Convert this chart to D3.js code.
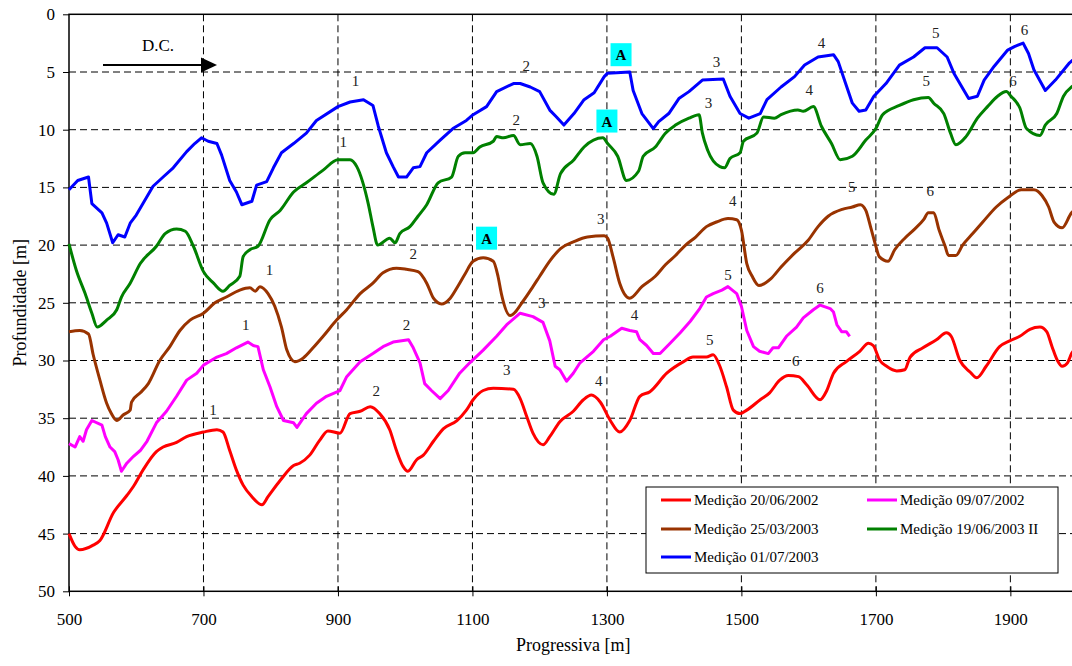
<!DOCTYPE html>
<html>
<head>
<meta charset="utf-8">
<script src="https://cdn.jsdelivr.net/npm/d3@7"></script>
<style>
  body { margin: 0; background: #fff; }
  svg { display: block; }
  svg text { font-family: "Liberation Serif", "Times New Roman", serif; }
</style>
</head>
<body>
<div class="container"></div>
<script>
// measurements: [progressiva (m), profundidade (m)]
var med20062002 = [[500,45.0],[509,46.1],[516,46.4],[536,46.0],[546,45.6],[566,43.2],[586,41.7],[596,40.9],[610,39.5],[630,37.9],[640,37.5],[660,37.1],[675,36.6],[700,36.2],[720,36.0],[729,36.2],[739,37.8],[749,39.5],[759,40.8],[772,41.8],[787,42.5],[796,41.8],[814,40.4],[834,39.1],[843,38.9],[858,38.2],[873,36.9],[885,36.1],[903,36.3],[918,34.6],[933,34.4],[948,34.0],[962,34.6],[977,36.0],[987,37.8],[997,39.2],[1004,39.6],[1017,38.6],[1027,38.2],[1042,37.0],[1057,35.9],[1077,35.2],[1091,34.3],[1101,33.4],[1116,32.6],[1131,32.4],[1161,32.5],[1171,33.3],[1181,34.9],[1190,36.3],[1205,37.3],[1215,36.6],[1230,35.3],[1250,34.4],[1265,33.4],[1277,33.0],[1290,33.6],[1305,35.2],[1319,36.2],[1334,35.2],[1349,33.1],[1364,32.7],[1389,31.1],[1414,30.1],[1428,29.7],[1448,29.7],[1458,29.5],[1468,30.5],[1478,32.3],[1488,34.3],[1498,34.6],[1508,34.3],[1528,33.4],[1542,32.8],[1557,31.7],[1570,31.3],[1585,31.4],[1597,32.1],[1617,33.4],[1627,32.6],[1637,31.1],[1656,30.1],[1676,29.2],[1689,28.5],[1696,28.7],[1706,30.0],[1716,30.5],[1731,30.9],[1743,30.8],[1751,29.7],[1770,28.9],[1790,28.2],[1805,27.6],[1812,27.9],[1825,30.0],[1840,31.0],[1850,31.5],[1864,30.5],[1884,28.8],[1899,28.3],[1914,27.9],[1929,27.3],[1944,27.1],[1954,27.5],[1962,28.8],[1970,30.0],[1977,30.5],[1985,30.2],[1991,29.4],[2000,28.8]];

var med09072002 = [[500,37.2],[509,37.5],[516,36.6],[521,37.0],[526,36.0],[534,35.2],[549,35.6],[554,36.6],[561,37.5],[568,37.9],[573,38.6],[578,39.6],[586,38.9],[596,38.3],[606,37.8],[616,37.0],[630,35.4],[645,34.4],[660,33.1],[675,31.7],[690,31.1],[700,30.4],[720,29.7],[734,29.4],[749,28.9],[766,28.4],[774,28.7],[781,28.8],[789,30.8],[799,32.3],[809,34.0],[819,35.2],[834,35.4],[839,35.8],[853,34.6],[868,33.7],[883,33.1],[903,32.6],[913,31.4],[933,30.1],[952,29.4],[967,28.8],[982,28.4],[1005,28.2],[1012,28.9],[1022,30.2],[1029,32.0],[1039,32.6],[1052,33.3],[1064,32.6],[1081,31.1],[1096,30.2],[1116,29.1],[1136,27.9],[1151,26.9],[1171,25.9],[1190,26.2],[1205,26.7],[1215,28.3],[1223,30.5],[1230,30.8],[1240,31.8],[1250,31.1],[1260,30.2],[1280,29.2],[1295,28.2],[1305,27.9],[1322,27.2],[1334,27.4],[1344,27.5],[1349,28.2],[1359,28.7],[1369,29.4],[1379,29.4],[1394,28.5],[1409,27.6],[1424,26.6],[1438,25.5],[1448,24.5],[1458,24.2],[1471,23.9],[1480,23.6],[1493,24.2],[1500,25.3],[1508,27.4],[1518,28.8],[1527,29.2],[1540,29.4],[1547,28.9],[1555,28.9],[1567,27.9],[1582,27.1],[1592,26.3],[1607,25.6],[1617,25.2],[1632,25.5],[1637,25.8],[1642,26.9],[1649,27.5],[1656,27.5],[1661,27.9]];

var med25032003 = [[500,27.5],[516,27.4],[529,27.7],[536,29.5],[546,31.7],[556,33.7],[563,34.6],[571,35.2],[581,34.7],[591,34.3],[593,33.6],[606,32.8],[618,32.0],[635,30.0],[650,28.8],[665,27.4],[680,26.5],[700,25.9],[717,25.0],[734,24.5],[754,23.9],[769,23.7],[777,24.0],[784,23.6],[796,24.2],[806,25.3],[816,27.1],[824,29.1],[836,30.1],[848,29.8],[863,28.9],[878,27.9],[898,26.5],[913,25.6],[933,24.2],[952,23.3],[967,22.4],[987,22.0],[1002,22.1],[1019,22.3],[1032,23.3],[1042,24.6],[1054,25.1],[1067,24.6],[1079,23.5],[1089,22.5],[1101,21.4],[1116,21.1],[1131,21.4],[1138,22.7],[1143,24.2],[1156,26.1],[1176,24.8],[1190,23.6],[1200,22.7],[1216,21.3],[1231,20.3],[1251,19.7],[1271,19.3],[1296,19.2],[1301,19.4],[1309,21.0],[1319,23.3],[1334,24.6],[1352,23.6],[1372,22.7],[1387,21.7],[1402,20.9],[1417,20.0],[1432,19.3],[1448,18.4],[1463,18.0],[1480,17.7],[1493,17.8],[1500,18.7],[1508,21.6],[1516,22.7],[1526,23.5],[1544,22.9],[1559,21.9],[1579,20.7],[1599,19.6],[1614,18.4],[1629,17.5],[1650,16.9],[1665,16.7],[1677,16.5],[1685,17.0],[1692,18.4],[1700,20.1],[1705,21.0],[1718,21.4],[1728,20.4],[1743,19.4],[1756,18.7],[1771,17.8],[1778,17.2],[1786,17.2],[1794,18.7],[1803,20.1],[1808,20.9],[1819,20.9],[1829,20.0],[1844,19.0],[1859,18.0],[1879,16.7],[1896,15.9],[1916,15.2],[1935,15.2],[1947,15.7],[1957,16.7],[1965,18.0],[1977,18.5],[1991,17.2],[2000,16.8]];

var med19062003 = [[500,19.9],[511,22.2],[524,24.2],[534,25.9],[542,27.1],[556,26.5],[571,25.6],[578,24.5],[591,23.3],[606,21.6],[630,20.1],[643,19.0],[660,18.6],[673,18.8],[685,20.1],[700,22.3],[715,23.3],[729,24.0],[739,23.5],[754,22.7],[759,21.0],[769,20.4],[781,20.1],[799,17.8],[814,17.0],[834,15.4],[853,14.6],[878,13.5],[900,12.6],[918,12.6],[928,13.2],[945,16.4],[952,18.4],[959,20.0],[977,19.4],[985,19.8],[992,19.0],[1007,18.4],[1019,17.5],[1032,16.5],[1049,14.6],[1069,14.1],[1079,12.3],[1089,12.0],[1101,12.0],[1111,11.5],[1131,11.0],[1136,10.6],[1146,10.7],[1161,10.5],[1171,11.3],[1186,11.2],[1196,12.3],[1205,14.6],[1221,15.6],[1231,13.8],[1251,12.6],[1266,11.5],[1294,10.7],[1301,11.2],[1316,12.3],[1329,14.4],[1347,13.6],[1354,12.3],[1372,11.5],[1387,10.3],[1402,9.6],[1422,9.0],[1437,8.7],[1442,10.3],[1450,11.8],[1468,13.2],[1475,13.3],[1483,12.5],[1498,12.0],[1503,11.0],[1523,10.3],[1533,8.9],[1549,9.0],[1559,8.7],[1584,8.3],[1592,8.4],[1607,8.0],[1619,9.7],[1634,11.2],[1647,12.6],[1665,12.3],[1685,10.9],[1700,9.9],[1710,8.7],[1735,7.9],[1756,7.4],[1778,7.2],[1786,7.7],[1801,8.6],[1811,10.3],[1819,11.3],[1834,10.6],[1851,9.0],[1866,8.0],[1881,7.1],[1894,6.7],[1901,7.1],[1914,8.1],[1924,9.9],[1944,10.5],[1952,9.6],[1969,8.6],[1979,7.1],[1991,6.3],[2000,6.0]];

var med01072003 = [[500,15.2],[513,14.4],[529,14.1],[534,16.4],[549,17.2],[556,18.1],[565,19.8],[573,19.1],[583,19.3],[591,18.1],[600,17.4],[610,16.4],[625,14.9],[640,14.1],[655,13.3],[675,11.9],[687,11.2],[697,10.7],[707,11.0],[720,11.2],[727,12.2],[739,14.4],[749,15.4],[757,16.5],[772,16.2],[779,14.8],[794,14.5],[804,13.3],[816,12.0],[834,11.2],[853,10.3],[868,9.2],[900,8.0],[918,7.6],[938,7.4],[952,7.9],[960,9.7],[972,12.0],[982,13.2],[990,14.1],[1002,14.1],[1012,13.3],[1022,13.2],[1032,12.0],[1052,10.9],[1071,9.9],[1091,9.2],[1101,8.7],[1121,8.0],[1136,6.7],[1161,6.0],[1171,6.0],[1186,6.3],[1200,6.7],[1215,8.3],[1225,8.9],[1236,9.6],[1251,8.6],[1266,7.4],[1281,6.8],[1296,5.4],[1301,5.1],[1334,5.0],[1339,6.6],[1352,8.6],[1369,9.9],[1377,9.3],[1392,8.6],[1407,7.3],[1422,6.7],[1442,5.7],[1473,5.6],[1483,7.1],[1498,8.6],[1511,9.0],[1528,8.6],[1538,7.4],[1559,6.3],[1579,5.4],[1594,4.4],[1614,3.7],[1637,3.5],[1644,4.1],[1655,6.0],[1665,7.7],[1675,8.4],[1685,8.3],[1697,7.1],[1715,6.0],[1735,4.4],[1756,3.7],[1773,2.9],[1791,2.9],[1806,3.7],[1816,5.1],[1831,6.6],[1838,7.3],[1851,7.1],[1861,5.7],[1876,4.5],[1896,3.1],[1906,2.8],[1919,2.5],[1927,3.4],[1935,4.8],[1952,6.6],[1967,5.7],[1988,4.2],[2000,3.6]];

var seriesNames = ["Medição 20/06/2002", "Medição 09/07/2002", "Medição 25/03/2003", "Medição 19/06/2003 II", "Medição 01/07/2003"];
var seriesColors = ["#ff0000", "#ff00ff", "#993300", "#008000", "#0000ff"];
var seriesData = [med20062002, med09072002, med25032003, med19062003, med01072003];

var xTicks = [500, 700, 900, 1100, 1300, 1500, 1700, 1900];
var yTicks = [0, 5, 10, 15, 20, 25, 30, 35, 40, 45, 50];

// numbered labels: [x, y, text]
var numLabels = [
  [714,34.3,"1"],[957,32.6,"2"],[1151,30.8,"3"],[1288,31.8,"4"],[1453,28.2,"5"],[1581,30.0,"6"],
  [763,26.9,"1"],[1002,26.9,"2"],[1203,25.0,"3"],[1341,26.1,"4"],[1480,22.6,"5"],[1617,23.7,"6"],
  [798,22.2,"1"],[1012,20.8,"2"],[1291,17.7,"3"],[1487,16.2,"4"],[1664,15.0,"5"],[1781,15.3,"6"],
  [908,11.1,"1"],[1165,9.2,"2"],[1451,7.7,"3"],[1601,6.6,"4"],[1775,5.75,"5"],[1904,5.8,"6"],
  [926,5.8,"1"],[1180,4.5,"2"],[1463,4.1,"3"],[1619,2.5,"4"],[1789,1.65,"5"],[1921,1.36,"6"]
];
var aMarks = [[1321,3.5],[1300,9.25],[1121,19.4]];

var W = 1072, H = 666;
var margin = {left: 69, top: 14.3};
var innerW = 1008.6, innerH = 577;
var serif = 'Liberation Serif';

var svg = d3.select('.container').append('svg').attr('width', W).attr('height', H);

var x = d3.scaleLinear().domain([500, 2000]).range([margin.left, margin.left + innerW]);
var y = d3.scaleLinear().domain([0, 50]).range([margin.top, margin.top + innerH]);

// grid
svg.append('g').selectAll('line').data(yTicks.slice(1, -1)).enter().append('line')
  .attr('x1', x(500)).attr('x2', x(2000))
  .attr('y1', function(d){ return y(d); }).attr('y2', function(d){ return y(d); })
  .attr('stroke', '#000').attr('stroke-width', 1).attr('stroke-dasharray', '7,4');
svg.append('g').selectAll('line').data(xTicks.slice(1)).enter().append('line')
  .attr('x1', function(d){ return x(d); }).attr('x2', function(d){ return x(d); })
  .attr('y1', y(0)).attr('y2', y(50))
  .attr('stroke', '#000').attr('stroke-width', 1).attr('stroke-dasharray', '7,4');

// frame
svg.append('rect').attr('x', x(500)).attr('y', y(0)).attr('width', innerW).attr('height', innerH)
  .attr('fill', 'none').attr('stroke', '#000').attr('stroke-width', 1.5);

// axes
var xAxis = svg.append('g').attr('transform', 'translate(0,' + y(50) + ')')
  .call(d3.axisBottom(x).tickValues(xTicks).tickFormat(d3.format('d'))
    .tickSizeInner(5).tickSizeOuter(0).tickPadding(17));
xAxis.attr('font-family', serif);
xAxis.select('.domain').remove();
xAxis.selectAll('.tick line').attr('y1', -5).attr('y2', 5).attr('stroke-width', 1);
xAxis.selectAll('text').attr('font-size', 17).attr('font-family', serif).attr('fill', '#000');

var yAxis = svg.append('g').attr('transform', 'translate(' + x(500) + ',0)')
  .call(d3.axisLeft(y).tickValues(yTicks).tickFormat(d3.format('d'))
    .tickSizeInner(6).tickSizeOuter(0).tickPadding(8));
yAxis.attr('font-family', serif);
yAxis.select('.domain').remove();
yAxis.selectAll('text').attr('font-size', 17).attr('font-family', serif).attr('fill', '#000');

svg.append('text').attr('x', (x(500) + x(2000)) / 2).attr('y', 651)
  .attr('text-anchor', 'middle').attr('font-family', serif).attr('font-size', 18).text('Progressiva [m]');
svg.append('text').attr('transform', 'translate(26,' + ((y(0) + y(50)) / 2) + ') rotate(-90)')
  .attr('text-anchor', 'middle').attr('font-family', serif).attr('font-size', 18).text('Profundidade [m]');

// lines
var plot = svg.append('g');
var smooth = d3.line().x(function(d){ return x(d[0]); }).y(function(d){ return y(d[1]); }).curve(d3.curveMonotoneX);
var rough = d3.line().x(function(d){ return x(d[0]); }).y(function(d){ return y(d[1]); });
seriesData.forEach(function(s, i){
  var jagged = (i === 1 || i === 4);
  plot.append('path').datum(s)
    .attr('d', jagged ? rough : smooth)
    .attr('fill', 'none').attr('stroke', seriesColors[i]).attr('stroke-width', 3)
    .attr('stroke-linejoin', 'round');
});

// numbers
svg.append('g').selectAll('text').data(numLabels).enter().append('text')
  .attr('x', function(d){ return x(d[0]); }).attr('y', function(d){ return y(d[1]) + 5; })
  .attr('text-anchor', 'middle').attr('font-family', serif).attr('font-size', 15).attr('fill', '#222')
  .text(function(d){ return d[2]; });

// A markers
var am = svg.append('g').selectAll('g').data(aMarks).enter().append('g')
  .attr('transform', function(d){ return 'translate(' + x(d[0]) + ',' + y(d[1]) + ')'; });
am.append('rect').attr('x', -10.5).attr('y', -11.5).attr('width', 21).attr('height', 23).attr('fill', '#00ffff');
am.append('text').attr('text-anchor', 'middle').attr('y', 5.5).attr('font-family', serif).attr('font-size', 15)
  .attr('font-weight', 'bold').text('A');

// D.C. arrow
svg.append('text').attr('x', 158).attr('y', 51).attr('text-anchor', 'middle')
  .attr('font-family', serif).attr('font-size', 17).text('D.C.');
svg.append('line').attr('x1', 103).attr('x2', 203).attr('y1', 65).attr('y2', 65)
  .attr('stroke', '#000').attr('stroke-width', 2.2);
svg.append('path').attr('d', 'M201,57.5 L217,65 L201,72.5 Z').attr('fill', '#000');

// legend
var lg = svg.append('g');
lg.append('rect').attr('x', 646).attr('y', 487).attr('width', 412).attr('height', 86)
  .attr('fill', '#fff').attr('stroke', '#000').attr('stroke-width', 1);
var legPos = [[661, 500], [867, 500], [661, 529], [867, 529], [661, 557]];
seriesNames.forEach(function(n, i){
  var p = legPos[i];
  lg.append('line').attr('x1', p[0]).attr('x2', p[0] + 30).attr('y1', p[1]).attr('y2', p[1])
    .attr('stroke', seriesColors[i]).attr('stroke-width', 3);
  lg.append('text').attr('x', p[0] + 33).attr('y', p[1] + 5).attr('font-family', serif)
    .attr('font-size', 15).text(n);
});
</script>
</body>
</html>
